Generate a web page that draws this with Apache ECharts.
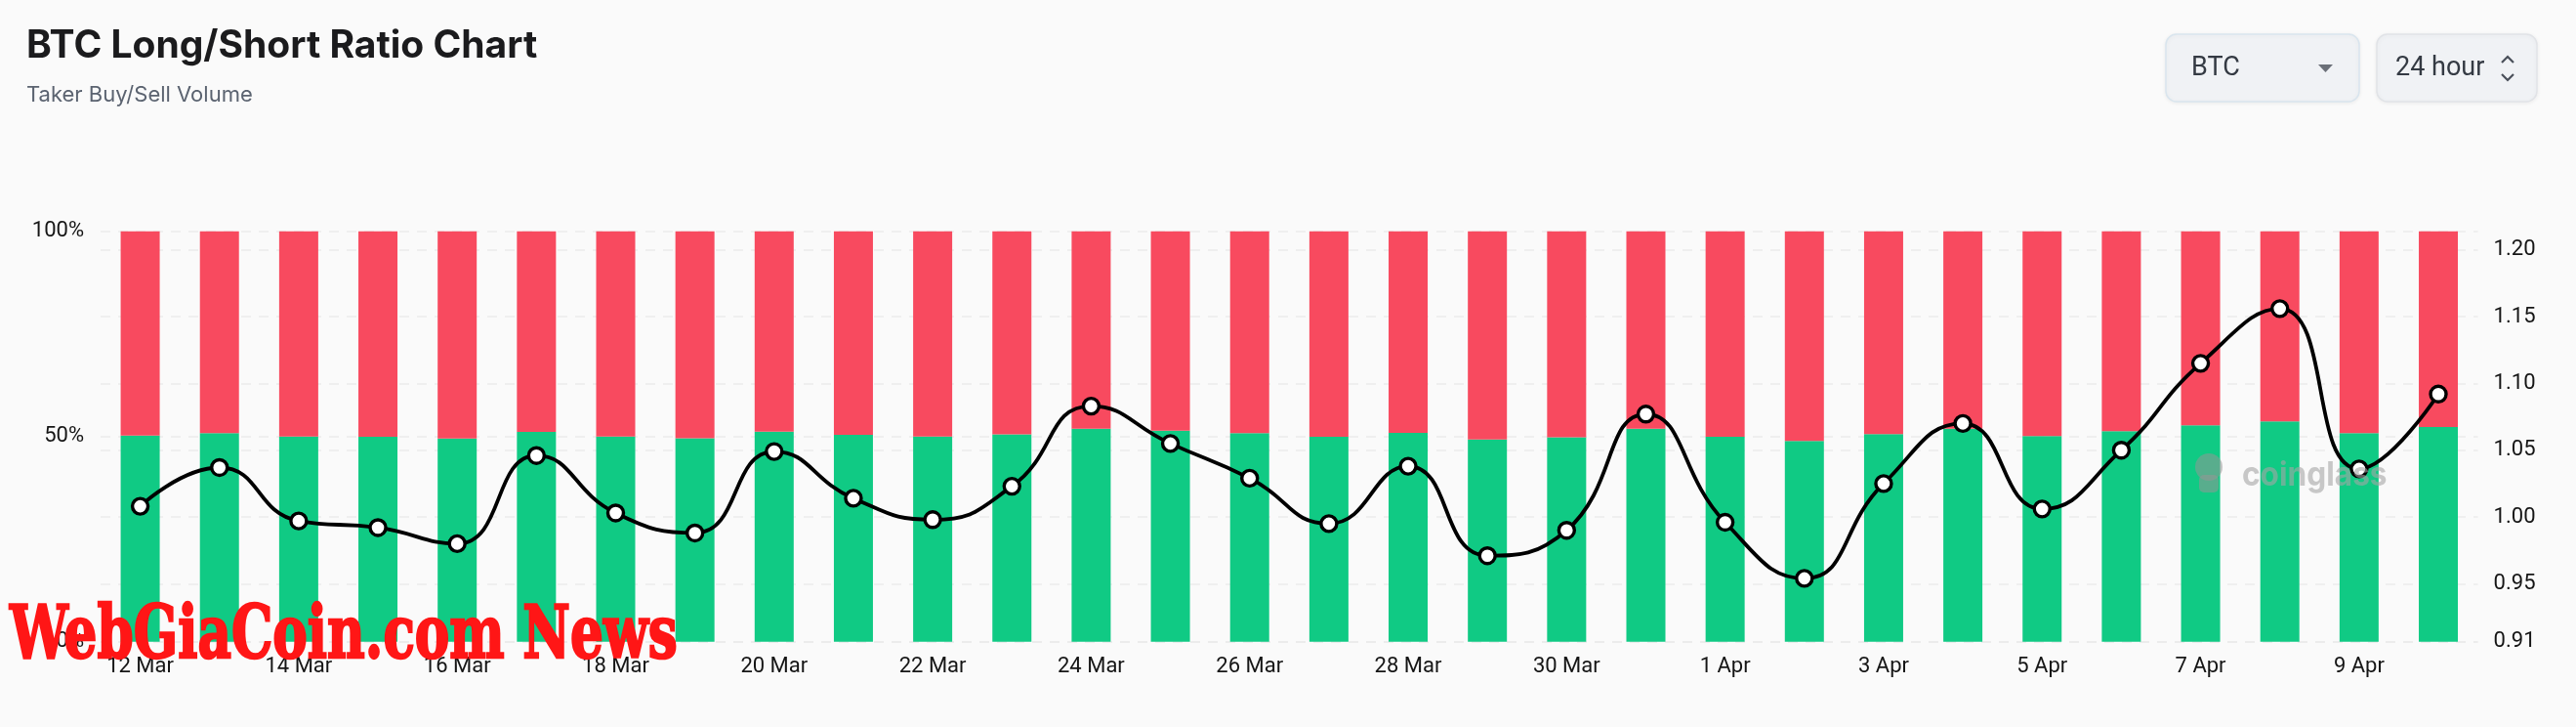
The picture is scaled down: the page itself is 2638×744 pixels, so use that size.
<!DOCTYPE html>
<html>
<head>
<meta charset="utf-8">
<script src="https://cdn.jsdelivr.net/npm/echarts@6/dist/echarts.min.js"></script>
<style>
html,body{margin:0;padding:0;background:#fafafa;}
#chart{width:2638px;height:744px;}
</style>
</head>
<body>
<div id="chart"></div>
<script>
var dates = ['12 Mar','13 Mar','14 Mar','15 Mar','16 Mar','17 Mar','18 Mar','19 Mar','20 Mar','21 Mar',
  '22 Mar','23 Mar','24 Mar','25 Mar','26 Mar','27 Mar','28 Mar','29 Mar','30 Mar','31 Mar',
  '1 Apr','2 Apr','3 Apr','4 Apr','5 Apr','6 Apr','7 Apr','8 Apr','9 Apr','10 Apr'];
var longPct = [50.2,50.8,50.0,49.9,49.5,51.1,50.0,49.6,51.2,50.4,
  50.0,50.5,51.9,51.4,50.8,49.9,50.9,49.3,49.8,51.9,
  49.9,48.9,50.6,51.9,50.1,51.3,52.7,53.7,50.8,52.3];
var shortPct = [49.8,49.2,50.0,50.1,50.5,48.9,50.0,50.4,48.8,49.6,
  50.0,49.5,48.1,48.6,49.2,50.1,49.1,50.7,50.2,48.1,
  50.1,51.1,49.4,48.1,49.9,48.7,47.3,46.3,49.2,47.7];
var ratio = [1.008,1.037,0.997,0.992,0.980,1.046,1.003,0.988,1.049,1.014,
  0.998,1.023,1.083,1.055,1.029,0.995,1.038,0.971,0.990,1.077,
  0.996,0.954,1.025,1.070,1.006,1.050,1.115,1.156,1.036,1.092];
var leftTicks = [0, 50, 100];
var rightMin = 0.9066, rightMax = 1.2139;
var rightTicks = [0.9066, 0.95, 1.00, 1.05, 1.10, 1.15, 1.20];

var chart = echarts.init(document.getElementById('chart'), null, {renderer:'canvas'});
var labelFont = {fontFamily:'Roboto', fontSize:22, color:'#151515'};
var splitLine = {show:true, lineStyle:{color:'#ececec', type:[10,8], width:1.5}};

var option = {
  animation:false,
  backgroundColor:'#fafafa',
  grid:{left:103, right:100.4, top:236.7, bottom:87.3, containLabel:false},
  xAxis:{
    type:'category', data:dates,
    axisLine:{show:false}, axisTick:{show:false},
    axisLabel:Object.assign({interval:1, margin:15}, labelFont)
  },
  yAxis:[
    {type:'value', min:0, max:100, position:'left',
     axisLine:{show:false}, axisTick:{show:false, customValues:leftTicks},
     axisLabel:Object.assign({margin:17, formatter:'{value}%', customValues:leftTicks}, labelFont),
     splitLine:splitLine},
    {type:'value', min:rightMin, max:rightMax, position:'right',
     axisLine:{show:false}, axisTick:{show:false, customValues:rightTicks},
     axisLabel:Object.assign({margin:16, customValues:rightTicks, formatter:function(v){return v.toFixed(2);}}, labelFont),
     splitLine:splitLine}
  ],
  series:[
    {type:'bar', name:'Long', stack:'ls', data:longPct, barWidth:40, itemStyle:{color:'#10ca84'}, z:2},
    {type:'bar', name:'Short', stack:'ls', data:shortPct, barWidth:40, itemStyle:{color:'#f84a5f'}, z:2},
    {type:'line', name:'Ratio', yAxisIndex:1, data:ratio, smooth:0.5,
     symbol:'circle', symbolSize:16, showAllSymbol:true,
     lineStyle:{color:'#000', width:3.8},
     itemStyle:{color:'#fff', borderColor:'#000', borderWidth:3.4}, z:5}
  ],
  graphic:[
    {type:'text', left:27, top:28, z:10, style:{text:'BTC Long/Short Ratio Chart', fontFamily:'Inter', fontWeight:700, fontSize:39, fill:'#1b1b1d'}},
    {type:'text', left:27, top:86, z:10, style:{text:'Taker Buy/Sell Volume', fontFamily:'Inter', fontSize:22, fill:'#5b6370'}},
    {type:'rect', shape:{x:2218, y:35, width:198, height:69, r:11}, z:10,
     style:{fill:'#f0f2f5', stroke:'#d9e5ee', lineWidth:1.5, shadowBlur:4, shadowColor:'rgba(0,0,0,0.06)', shadowOffsetY:1}},
    {type:'text', x:2244, y:70, z:11, style:{text:'BTC', fontFamily:'Roboto', fontSize:27, fill:'#343a43', verticalAlign:'middle'}},
    {type:'polygon', shape:{points:[[2374,66],[2389,66],[2381.5,74]]}, z:11, style:{fill:'#6b7078'}},
    {type:'rect', shape:{x:2434, y:35, width:164, height:69, r:11}, z:10,
     style:{fill:'#f0f2f5', stroke:'#e1e3e7', lineWidth:1.5, shadowBlur:4, shadowColor:'rgba(0,0,0,0.06)', shadowOffsetY:1}},
    {type:'text', x:2453, y:70, z:11, style:{text:'24 hour', fontFamily:'Roboto', fontSize:27, fill:'#343a43', verticalAlign:'middle'}},
    {type:'polyline', shape:{points:[[2562,64],[2568,58],[2574,64]]}, z:11, style:{stroke:'#4a505a', lineWidth:2.2, fill:null}},
    {type:'polyline', shape:{points:[[2562,76],[2568,82],[2574,76]]}, z:11, style:{stroke:'#4a505a', lineWidth:2.2, fill:null}},
    {type:'circle', shape:{cx:2262, cy:478, r:14}, z:6, style:{fill:'rgba(150,150,150,0.55)'}},
    {type:'rect', shape:{x:2252, y:486, width:20, height:18, r:5}, z:6, style:{fill:'rgba(150,150,150,0.55)'}},
    {type:'text', x:2296, y:487, z:6, scaleX:0.93, style:{text:'coinglass', fontFamily:'Inter', fontWeight:700, fontSize:34, fill:'rgba(165,165,165,0.6)', verticalAlign:'middle'}},
    {type:'text', x:10, y:654, z:20, scaleX:0.72, style:{text:'WebGiaCoin.com News', fontFamily:'"DejaVu Serif", serif', fontWeight:'bold', fontSize:74, fill:'#ff1616', stroke:'#ff1616', lineWidth:2.5, verticalAlign:'middle'}}
  ]
};
chart.setOption(option);
</script>
</body>
</html>
